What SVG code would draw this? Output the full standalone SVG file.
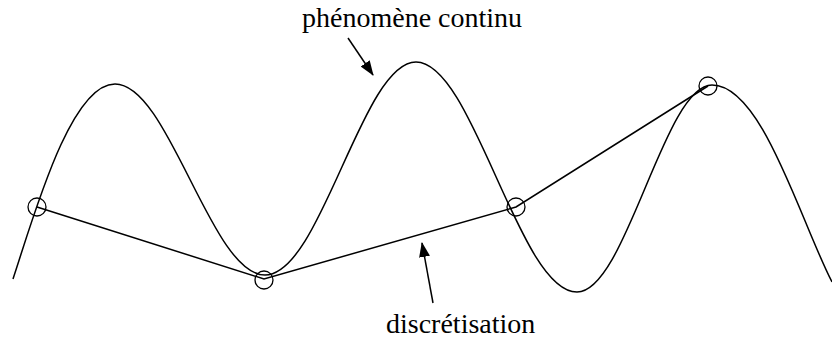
<svg xmlns="http://www.w3.org/2000/svg" width="832" height="342" viewBox="0 0 832 342">
<style>
.ln{fill:none;stroke:#000;stroke-width:1.5}
.pt{fill:none;stroke:#000;stroke-width:1.3}
.lbl{font-size:28px;fill:#000}
</style>
<defs>
<marker id="ah" markerWidth="15" markerHeight="11" refX="14" refY="5.5" orient="auto" markerUnits="userSpaceOnUse">
<path d="M0,0 L15,5.5 L0,11 Z" fill="#000"/>
</marker>
</defs>
<rect width="832" height="342" fill="#fff"/>
<g id="curve">
<path class="ln" d="M13,279 C33,219 70,84 115,84 C169,84 211,275 265,275 C321,275 362,62 416,62 C473,62 519,292 577,292 C626,292 664,85 712,85 C762,85 800,220 832,282"/>
</g>
<g id="connectors">
<polyline class="ln" points="37,207 264,279 516,207 708,86"/>
<line class="ln" x1="348" y1="38" x2="373" y2="75" marker-end="url(#ah)"/>
<line class="ln" x1="433" y1="303" x2="422" y2="243" marker-end="url(#ah)"/>
</g>
<g id="samples">
<circle class="pt" cx="37" cy="207" r="9"/>
<circle class="pt" cx="264" cy="280" r="9"/>
<circle class="pt" cx="516" cy="207" r="9"/>
<circle class="pt" cx="708" cy="86" r="9"/>
</g>
<g id="label-continu"><text class="lbl" font-family="Liberation Serif, Times New Roman, serif" x="302" y="27">phénomène continu</text></g>
<g id="label-discret"><text class="lbl" font-family="Liberation Serif, Times New Roman, serif" x="386" y="333">discrétisation</text></g>
</svg>
